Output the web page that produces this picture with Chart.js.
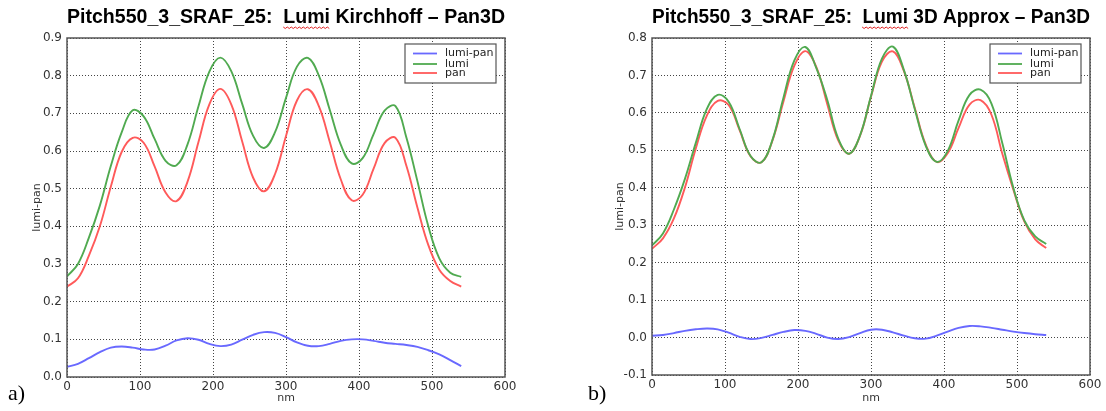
<!DOCTYPE html>
<html>
<head>
<meta charset="utf-8">
<script src="https://cdn.jsdelivr.net/npm/chart.js@4.4.1/dist/chart.umd.min.js"></script>
<style>
  html, body { margin: 0; padding: 0; background: #fff; }
  #wrap { position: relative; width: 1106px; height: 411px; overflow: hidden; }
  .box { position: absolute; top: 0; width: 553px; height: 411px; }
  .tag { position: absolute; top: 380px; font-family: 'Liberation Serif', 'Times New Roman', serif; font-size: 22px; color: #000; }
</style>
</head>
<body>
<div id="wrap">
  <div class="box" style="left:0"><canvas id="chartA" width="553" height="411"></canvas></div>
  <div class="box" style="left:553px"><canvas id="chartB" width="553" height="411"></canvas></div>
  <div class="tag" style="left:8px">a)</div>
  <div class="tag" style="left:588px">b)</div>
</div>
<script>
// x positions (nm)
const nm = [0, 15, 30, 45, 60, 75, 90, 105, 120, 135, 150, 165, 180, 195, 210, 225, 240, 255, 270,
            285, 300, 315, 330, 345, 360, 375, 390, 405, 420, 435, 450, 465, 480, 495, 510, 525, 540];

// a) Lumi Kirchhoff vs Pan3D
const kirchDiff = [0.027, 0.035, 0.050, 0.066, 0.078, 0.081, 0.078, 0.073, 0.073, 0.083, 0.097, 0.103, 0.099,
                   0.088, 0.082, 0.086, 0.099, 0.112, 0.119, 0.117, 0.106, 0.092, 0.083, 0.082, 0.088, 0.096,
                   0.100, 0.100, 0.096, 0.091, 0.088, 0.085, 0.080, 0.071, 0.060, 0.045, 0.029];
const kirchLumi = [0.267, 0.300, 0.370, 0.455, 0.560, 0.650, 0.708, 0.692, 0.632, 0.574, 0.562, 0.617, 0.718,
                   0.811, 0.848, 0.812, 0.725, 0.640, 0.608, 0.650, 0.741, 0.824, 0.847, 0.800, 0.709, 0.617,
                   0.567, 0.581, 0.645, 0.707, 0.719, 0.635, 0.520, 0.400, 0.315, 0.277, 0.266];
const kirchPan  = [0.240, 0.262, 0.322, 0.400, 0.505, 0.598, 0.635, 0.622, 0.559, 0.490, 0.467, 0.518, 0.623,
                   0.724, 0.765, 0.724, 0.625, 0.529, 0.493, 0.539, 0.640, 0.734, 0.764, 0.719, 0.624, 0.525,
                   0.469, 0.484, 0.553, 0.621, 0.635, 0.560, 0.450, 0.350, 0.285, 0.255, 0.240];

// b) Lumi 3D Approx vs Pan3D
const approxDiff = [0.005, 0.007, 0.012, 0.018, 0.022, 0.024, 0.022, 0.013, 0.002, -0.004, -0.001, 0.007, 0.015,
                    0.020, 0.018, 0.010, 0.000, -0.004, 0.001, 0.012, 0.021, 0.021, 0.014, 0.005, -0.002, -0.003,
                    0.005, 0.016, 0.026, 0.031, 0.030, 0.026, 0.021, 0.016, 0.012, 0.009, 0.007];
const approxLumi = [0.246, 0.278, 0.342, 0.423, 0.520, 0.610, 0.648, 0.630, 0.557, 0.485, 0.468, 0.528, 0.640,
                    0.740, 0.776, 0.720, 0.635, 0.532, 0.491, 0.540, 0.645, 0.745, 0.777, 0.715, 0.610, 0.512,
                    0.469, 0.498, 0.580, 0.648, 0.662, 0.625, 0.518, 0.400, 0.313, 0.270, 0.250];
const approxPan  = [0.237, 0.265, 0.318, 0.400, 0.505, 0.592, 0.632, 0.621, 0.554, 0.484, 0.468, 0.526, 0.630,
                    0.726, 0.765, 0.723, 0.624, 0.527, 0.491, 0.539, 0.643, 0.737, 0.764, 0.712, 0.613, 0.515,
                    0.469, 0.492, 0.560, 0.622, 0.634, 0.595, 0.490, 0.395, 0.310, 0.262, 0.239];

const seriesNames = ['lumi-pan', 'lumi', 'pan'];
const seriesColors = ['rgb(105,105,255)', 'rgb(80,170,80)', 'rgb(255,90,90)'];

const titlePrefix = 'Pitch550_3_SRAF_25:  ';
const titleFont = { family: 'Liberation Sans', size: 20, weight: 'bold', lineHeight: 1.2 };

// frame box, inset legend and the red spell-check squiggle under "Lumi"
const framePlugin = {
    id: 'framePlugin',
    afterDraw(chart) {
        const ctx = chart.ctx;
        const a = chart.chartArea;
        ctx.save();
        ctx.strokeStyle = '#555';
        ctx.lineWidth = 1.5;
        ctx.strokeRect(a.left, a.top, a.right - a.left, a.bottom - a.top);

        // legend
        const w = 91, h = 39;
        const x0 = a.right - 9 - w, y0 = a.top + 6;
        ctx.fillStyle = '#fff';
        ctx.fillRect(x0, y0, w, h);
        ctx.lineWidth = 1.2;
        ctx.strokeStyle = '#555';
        ctx.strokeRect(x0, y0, w, h);
        const rows = [9.5, 20, 29];
        ctx.font = '11px "DejaVu Sans"';
        ctx.textBaseline = 'middle';
        chart.data.datasets.forEach((ds, i) => {
            const y = y0 + rows[i];
            ctx.strokeStyle = ds.borderColor;
            ctx.lineWidth = 1.8;
            ctx.beginPath();
            ctx.moveTo(x0 + 8, y);
            ctx.lineTo(x0 + 32, y);
            ctx.stroke();
            ctx.fillStyle = '#222';
            ctx.fillText(ds.label, x0 + 40, y);
        });

        // squiggle
        const t = chart.options.plugins.title;
        ctx.font = 'bold 20px "Liberation Sans"';
        const full = ctx.measureText(t.text).width;
        const pre = ctx.measureText(titlePrefix).width;
        const lw = ctx.measureText('Lumi').width;
        const cx = (a.left + a.right) / 2;
        const sx = cx - full / 2 + pre;
        const sy = 27;
        ctx.strokeStyle = '#e02020';
        ctx.lineWidth = 1;
        ctx.beginPath();
        ctx.moveTo(sx, sy);
        for (let k = 0; 2 * (k + 1) <= lw; k++) {
            ctx.lineTo(sx + 2 * (k + 1), sy + (k % 2 === 0 ? 1.5 : 0));
        }
        ctx.stroke();
        ctx.restore();
    }
};

function makeChart(id, titleText, diff, lumi, pan, yMin, yMax, yWidth, yTitlePad, padRight, xHeight) {
    const ctx = document.getElementById(id).getContext('2d');
    const values = [diff, lumi, pan];
    return new Chart(ctx, {
        type: 'line',
        data: {
            datasets: values.map((v, i) => ({
                label: seriesNames[i],
                data: nm.map((x, k) => ({ x: x, y: v[k] })),
                borderColor: seriesColors[i],
                borderWidth: 1.9,
                pointRadius: 0,
                fill: false,
                tension: 0.4
            }))
        },
        options: {
            responsive: false,
            animation: false,
            events: [],
            layout: {
                padding: { left: 0, right: padRight, top: 0, bottom: 0 }
            },
            scales: {
                x: {
                    type: 'linear',
                    min: 0,
                    max: 600,
                    afterFit: (s) => { s.height = xHeight; },
                    ticks: {
                        stepSize: 100,
                        autoSkip: false,
                        maxRotation: 0,
                        padding: 3,
                        color: '#333',
                        font: { family: 'DejaVu Sans', size: 12 }
                    },
                    grid: { color: '#444', lineWidth: 1, drawTicks: false },
                    border: { display: false, dash: [1, 2] },
                    title: {
                        display: true,
                        text: 'nm',
                        color: '#333',
                        font: { family: 'DejaVu Sans', size: 11 },
                        padding: { top: 0, bottom: 6 }
                    }
                },
                y: {
                    type: 'linear',
                    min: yMin,
                    max: yMax,
                    afterFit: (s) => { s.width = yWidth; },
                    ticks: {
                        stepSize: 0.1,
                        autoSkip: false,
                        padding: 5,
                        color: '#333',
                        font: { family: 'DejaVu Sans', size: 12 },
                        callback: (v) => v.toFixed(1)
                    },
                    grid: { color: '#444', lineWidth: 1, drawTicks: false },
                    border: { display: false, dash: [1, 2] },
                    title: {
                        display: true,
                        text: 'lumi-pan',
                        color: '#333',
                        font: { family: 'DejaVu Sans', size: 11 },
                        padding: { top: yTitlePad, bottom: 0 }
                    }
                }
            },
            plugins: {
                legend: { display: false },
                tooltip: { enabled: false },
                title: {
                    display: true,
                    fullSize: false,
                    text: titleText,
                    color: '#000',
                    font: titleFont,
                    padding: { top: 5, bottom: 9 }
                }
            }
        },
        plugins: [framePlugin]
    });
}

makeChart('chartA', titlePrefix + 'Lumi Kirchhoff \u2013 Pan3D',
          kirchDiff, kirchLumi, kirchPan, 0, 0.9, 67, 31, 48, 34);
makeChart('chartB', titlePrefix + 'Lumi 3D Approx \u2013 Pan3D',
          approxDiff, approxLumi, approxPan, -0.1, 0.8, 99, 61, 16, 36);
</script>
</body>
</html>
